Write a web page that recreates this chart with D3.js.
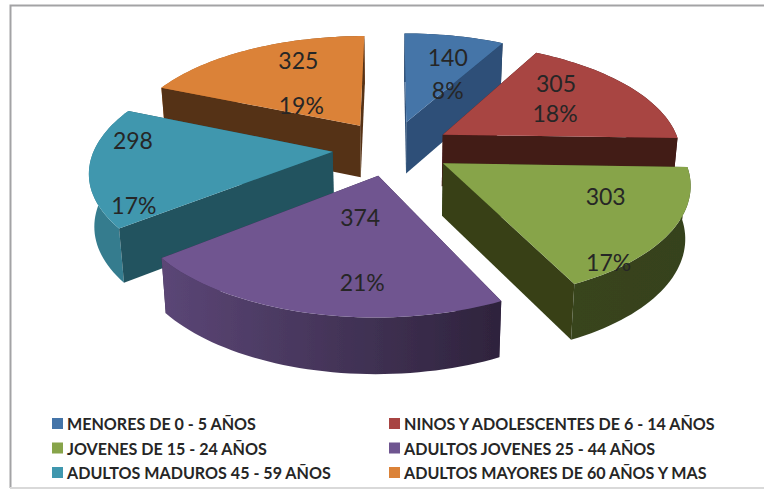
<!DOCTYPE html>
<html>
<head>
  <meta charset="utf-8">
  <title>Pie 3D</title>
  <script src="https://d3js.org/d3.v7.min.js"></script>
  <style>
    html, body { margin: 0; padding: 0; background: #fff; }
    svg { display: block; }
    text { font-family: Lato, "Open Sans", sans-serif; fill: #262626; }
    .val { font-size: 23px; text-anchor: middle; dominant-baseline: central; }
    .leg { font-size: 16.1px; font-weight: 700; dominant-baseline: central; }
  </style>
</head>
<body>
<script>
var categories = ["MENORES DE 0 - 5 AÑOS", "NINOS Y ADOLESCENTES DE 6 - 14 AÑOS", "JOVENES DE 15 - 24 AÑOS",
  "ADULTOS JOVENES 25 - 44 AÑOS", "ADULTOS MADUROS 45 - 59 AÑOS", "ADULTOS MAYORES DE 60 AÑOS Y MAS"];
var values = [140, 305, 303, 374, 298, 325];
var percents = ["8%", "18%", "17%", "21%", "17%", "19%"];
var colors = ["#4474a8", "#a84442", "#87a44a", "#6f5590", "#3f97ae", "#db8238"];
var cutColors = ["#2d4f78", "#431a17", "#374119", "#3a2a4a", "#22525e", "#553015"];

var width = 764, height = 489;

// projection of the pie plane, with some perspective
var cx = 392, cy = 148, rx = 238, ry = 110, k = 0.155, depth = 52, explode = 0.25;

// nudges for the labels from the middle of each slice
var valueNudge = [[11, -11], [-1, -22], [31, -7], [20, -36], [-55, -21], [7, -18]];
var percentNudge = [[11, 22], [-2, 8], [34, 59], [22, 29], [-54, 44], [10, 27]];

var svg = d3.select("body").append("svg").attr("width", width).attr("height", height);

var defs = svg.append("defs");
defs.append("filter").attr("id", "soft")
  .append("feGaussianBlur").attr("stdDeviation", 0.45);

svg.append("path")
  .attr("d", "M10.5,488V5.5H764")
  .attr("fill", "none").attr("stroke", "#a3a3a5").attr("stroke-width", 2);
svg.append("line")
  .attr("x1", 10).attr("x2", 764).attr("y1", 488).attr("y2", 488)
  .attr("stroke", "#d9d9d9").attr("stroke-width", 2);

var color = d3.scaleOrdinal().domain(categories).range(colors);
var cutColor = d3.scaleOrdinal().domain(categories).range(cutColors);

var pie = d3.pie().sort(null).value(function(d, i){ return values[i]; });
var slices = pie(categories);

// the low edge of a wall pulls in a little towards the centre
function project(px, pz, drop){
  var s = 1 / (1 - k * pz);
  return [cx + rx * px * s * (1 - 0.018 * drop), cy + ry * pz * s + drop * depth * Math.pow(s, 0.4)];
}

// plane point of a slice: r from its apex at angle a
function planePoint(slice, a, r){
  var mid = (slice.startAngle + slice.endAngle) / 2;
  return [explode * Math.sin(mid) + r * Math.sin(a), -explode * Math.cos(mid) - r * Math.cos(a)];
}

function arcAngles(slice){
  var n = Math.ceil((slice.endAngle - slice.startAngle) / 0.03);
  return d3.range(n + 1).map(function(i){
    return slice.startAngle + (slice.endAngle - slice.startAngle) * i / n;
  });
}

function shade(name, a){
  var f = Math.max(0.4, Math.min(0.9, 0.56 - 0.33 * Math.sin(a)));
  return d3.interpolateRgb("#000", color(name))(f);
}

var line = d3.line();

// back slices first
var drawOrder = [0, 5, 1, 4, 2, 3];
var g = svg.append("g").attr("filter", "url(#soft)");

drawOrder.forEach(function(i){
  var slice = slices[i], name = categories[i];
  var apex = planePoint(slice, 0, 0);
  var rim = arcAngles(slice).map(function(a){ return planePoint(slice, a, 1); });

  // outer wall is one path with a left to right gradient
  var rimTop = rim.map(function(p){ return project(p[0], p[1], 0); });
  var rimLow = rim.map(function(p){ return project(p[0], p[1], 1); }).reverse();
  var first = rimTop[0], last = rimTop[rimTop.length - 1];
  var grad = defs.append("linearGradient").attr("id", "wall" + i)
    .attr("gradientUnits", "userSpaceOnUse")
    .attr("x1", first[0]).attr("x2", last[0]).attr("y1", 0).attr("y2", 0);
  grad.append("stop").attr("offset", 0).attr("stop-color", shade(name, slice.startAngle));
  grad.append("stop").attr("offset", 1).attr("stop-color", shade(name, slice.endAngle));

  var walls = [{
    d: line(rimTop.concat(rimLow)) + "Z",
    z: d3.mean(rim, function(p){ return p[1]; }),
    fill: "url(#wall" + i + ")"
  }];

  // the two cut faces
  [rim[0], rim[rim.length - 1]].forEach(function(end){
    var corners = [project(apex[0], apex[1], 0), project(end[0], end[1], 0),
      project(end[0], end[1], 1), project(apex[0], apex[1], 1)];
    walls.push({ d: line(corners) + "Z", z: (apex[1] + end[1]) / 2, fill: cutColor(name) });
  });
  walls.sort(function(x, y){ return x.z - y.z; });

  var sg = g.append("g");
  sg.selectAll("path.wall").data(walls).enter().append("path")
    .attr("class", "wall")
    .attr("d", function(w){ return w.d; })
    .attr("fill", function(w){ return w.fill; });

  sg.append("path")
    .attr("d", line([project(apex[0], apex[1], 0)].concat(rimTop)) + "Z")
    .attr("fill", color(name));
});

// labels on top
slices.forEach(function(slice, i){
  var mid = (slice.startAngle + slice.endAngle) / 2;
  var p = planePoint(slice, mid, 0.6);
  var c = project(p[0], p[1], 0);
  svg.append("text").attr("class", "val")
    .attr("x", c[0] + valueNudge[i][0]).attr("y", c[1] + valueNudge[i][1])
    .text(values[i]);
  svg.append("text").attr("class", "val")
    .attr("x", c[0] + percentNudge[i][0]).attr("y", c[1] + percentNudge[i][1])
    .text(percents[i]);
});

// legend, two columns
var legendX = d3.scaleOrdinal().domain([0, 1]).range([52, 389]);
var legendY = d3.scaleOrdinal().domain([0, 1, 2]).range([423.5, 448, 472.5]);

var legend = svg.selectAll("g.legend").data(categories).enter().append("g")
  .attr("class", "legend")
  .attr("transform", function(d, i){
    return "translate(" + legendX(i % 2) + "," + legendY(Math.floor(i / 2)) + ")";
  });
legend.append("rect")
  .attr("y", -5.5).attr("width", 11).attr("height", 11)
  .attr("fill", function(d){ return color(d); });
legend.append("text").attr("class", "leg")
  .attr("x", 15)
  .text(function(d){ return d; });
</script>
</body>
</html>
